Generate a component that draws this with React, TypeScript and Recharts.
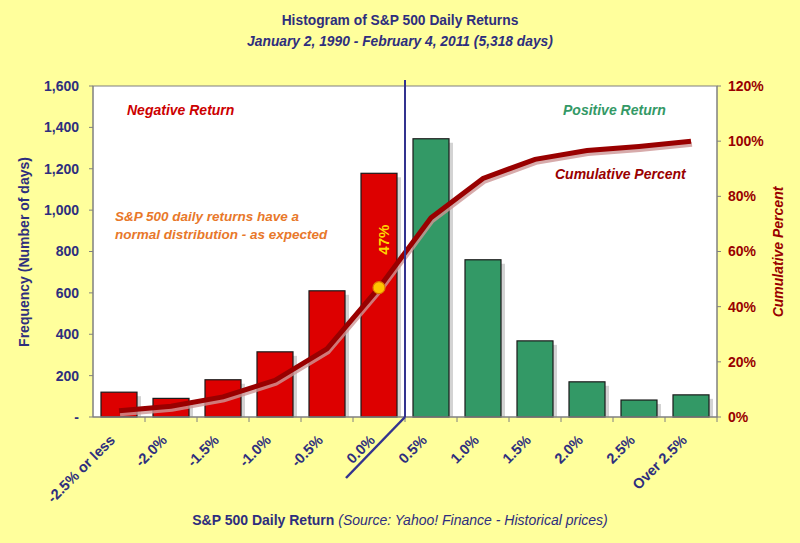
import { ComposedChart, Bar, Line, XAxis, YAxis, CartesianGrid, Cell } from "recharts";

const categories = ["-2.5% or less", "-2.0%", "-1.5%", "-1.0%", "-0.5%", "0.0%", "0.5%", "1.0%", "1.5%", "2.0%", "2.5%", "Over 2.5%"];
const frequency = [120, 90, 180, 315, 610, 1178, 1345, 760, 368, 170, 82, 107];
const cumulativePct = [2.3, 3.9, 7.3, 13.3, 24.7, 46.9, 72.2, 86.5, 93.4, 96.6, 98.1, 100];
const freqTicks = [0, 200, 400, 600, 800, 1000, 1200, 1400, 1600];
const pctTicks = [0, 20, 40, 60, 80, 100, 120];

const data = categories.map((name, i) => ({
  name,
  freq: frequency[i],
  cum: cumulativePct[i],
}));

const W = 800;
const H = 543;
const plot = { left: 93, right: 717, top: 86, bottom: 417 };
const band = (plot.right - plot.left) / categories.length;

const NAVY = "#2e2e7e";
const DARKRED = "#990000";
const FONT = "'Liberation Sans', Arial, sans-serif";

const ShadowBar = (props: any) => {
  const { x, y, width, height, fill } = props;
  if (!height || height <= 0) return <g />;
  return (
    <g>
      <rect x={x + 4} y={y + 4} width={width} height={Math.max(height - 4, 0)} fill="#a8a8a8" opacity={0.5} />
      <rect x={x} y={y} width={width} height={height} fill={fill} stroke="#1a1a1a" strokeWidth={1.2} />
    </g>
  );
};

const renderDot = (props: any) => {
  const { cx, cy, index } = props;
  if (index !== 5) return <g key={`d-${index}`} />;
  return (
    <g key={`d-${index}`}>
      <circle cx={cx} cy={cy} r={6} fill="#ffc400" stroke="#e07a00" strokeWidth={1.2} />
      <text
        x={cx + 5}
        y={cy - 48}
        transform={`rotate(-90 ${cx + 5} ${cy - 48})`}
        textAnchor="middle"
        dominantBaseline="central"
        fill="#ffd800"
        fontSize={15}
        fontWeight="bold"
        fontFamily={FONT}
      >
        47%
      </text>
    </g>
  );
};

const XTick = (props: any) => {
  const { x, payload } = props;
  const tx = x - 3;
  const ty = plot.bottom + 24;
  return (
    <text
      x={tx}
      y={ty}
      transform={`rotate(-45 ${tx} ${ty})`}
      textAnchor="end"
      fill={NAVY}
      fontSize={14.5}
      fontWeight="bold"
      fontFamily={FONT}
    >
      {payload.value}
    </text>
  );
};

const fmtFreq = (v: number) => (v === 0 ? "-" : v.toLocaleString("en-US"));
const fmtPct = (v: number) => `${v}%`;

export default function App() {
  const split = plot.left + 6 * band;
  return (
    <div style={{ position: "relative", width: W, height: H, background: "#ffff9c", fontFamily: FONT }}>
      <style>{`body{margin:0} .cum-line .recharts-line-curve{filter:drop-shadow(1px 3px 0px rgba(205,150,150,0.8));}`}</style>
      <ComposedChart
        width={W}
        height={H}
        data={data}
        margin={{ top: plot.top, right: 0, bottom: 0, left: 0 }}
        barSize={36}
      >
        <CartesianGrid fill="#ffffff" horizontal={false} vertical={false} />
        <XAxis
          dataKey="name"
          height={H - plot.bottom}
          tickLine={false}
          axisLine={{ stroke: "#808080" }}
          tick={<XTick />}
          interval={0}
        />
        <YAxis
          yAxisId="freq"
          width={plot.left}
          domain={[0, 1600]}
          ticks={freqTicks}
          tickFormatter={fmtFreq}
          tickSize={4}
          tickMargin={10}
          axisLine={{ stroke: "#808080" }}
          tickLine={{ stroke: "#808080" }}
          tick={{ fill: NAVY, fontSize: 14, fontWeight: "bold", fontFamily: FONT }}
        />
        <YAxis
          yAxisId="pct"
          orientation="right"
          width={W - plot.right}
          domain={[0, 120]}
          ticks={pctTicks}
          tickFormatter={fmtPct}
          tickSize={4}
          tickMargin={7}
          axisLine={{ stroke: "#808080" }}
          tickLine={{ stroke: "#808080" }}
          tick={{ fill: DARKRED, fontSize: 14, fontWeight: "bold", fontFamily: FONT }}
        />
        <Bar yAxisId="freq" dataKey="freq" shape={<ShadowBar />} isAnimationActive={false}>
          {data.map((d, i) => (
            <Cell key={`c-${i}`} fill={i < 6 ? "#dd0000" : "#339966"} />
          ))}
        </Bar>
        <Line
          className="cum-line"
          yAxisId="pct"
          dataKey="cum"
          type="linear"
          stroke={DARKRED}
          strokeWidth={5}
          dot={renderDot}
          activeDot={false}
          isAnimationActive={false}
        />
      </ComposedChart>

      <svg width={W} height={H} style={{ position: "absolute", left: 0, top: 0, pointerEvents: "none" }}>
        <rect
          x={plot.left}
          y={plot.top}
          width={plot.right - plot.left}
          height={plot.bottom - plot.top}
          fill="none"
          stroke="#808080"
          strokeWidth={1}
        />
        {categories.map((_, i) => (
          <line
            key={`t-${i}`}
            x1={plot.left + (i + 1) * band}
            x2={plot.left + (i + 1) * band}
            y1={plot.bottom}
            y2={plot.bottom + 5}
            stroke="#808080"
          />
        ))}
        <line x1={split} x2={split} y1={plot.top - 6} y2={plot.bottom} stroke="#33338f" strokeWidth={2} />
        <line x1={split} x2={split - 59} y1={plot.bottom} y2={plot.bottom + 61} stroke="#33338f" strokeWidth={2.5} />

        <text x={400} y={25} textAnchor="middle" fill={NAVY} fontSize={13.8} fontWeight="bold">
          Histogram of S&amp;P 500 Daily Returns
        </text>
        <text x={400} y={46} textAnchor="middle" fill={NAVY} fontSize={13.8} fontWeight="bold" fontStyle="italic">
          January 2, 1990 - February 4, 2011 (5,318 days)
        </text>

        <text x={127} y={115} fill="#cc0000" fontSize={14} fontWeight="bold" fontStyle="italic">
          Negative Return
        </text>
        <text x={563} y={115} fill="#339966" fontSize={14} fontWeight="bold" fontStyle="italic">
          Positive Return
        </text>
        <text x={555} y={179} fill={DARKRED} fontSize={14} fontWeight="bold" fontStyle="italic">
          Cumulative Percent
        </text>
        <text x={115} y={221} fill="#e8782a" fontSize={13.5} fontWeight="bold" fontStyle="italic">
          S&amp;P 500 daily returns have a
        </text>
        <text x={115} y={239} fill="#e8782a" fontSize={13.5} fontWeight="bold" fontStyle="italic">
          normal distribution - as expected
        </text>

        <text
          x={24}
          y={252}
          transform="rotate(-90 24 252)"
          textAnchor="middle"
          dominantBaseline="central"
          fill={NAVY}
          fontSize={14}
          fontWeight="bold"
        >
          Frequency (Number of days)
        </text>
        <text
          x={778}
          y={252}
          transform="rotate(-90 778 252)"
          textAnchor="middle"
          dominantBaseline="central"
          fill={DARKRED}
          fontSize={14}
          fontWeight="bold"
          fontStyle="italic"
        >
          Cumulative Percent
        </text>

        <text x={400} y={525} textAnchor="middle" fill={NAVY} fontSize={14}>
          <tspan fontWeight="bold">S&amp;P 500 Daily Return</tspan>
          <tspan fontStyle="italic"> (Source: Yahoo! Finance - Historical prices)</tspan>
        </text>
      </svg>
    </div>
  );
}
